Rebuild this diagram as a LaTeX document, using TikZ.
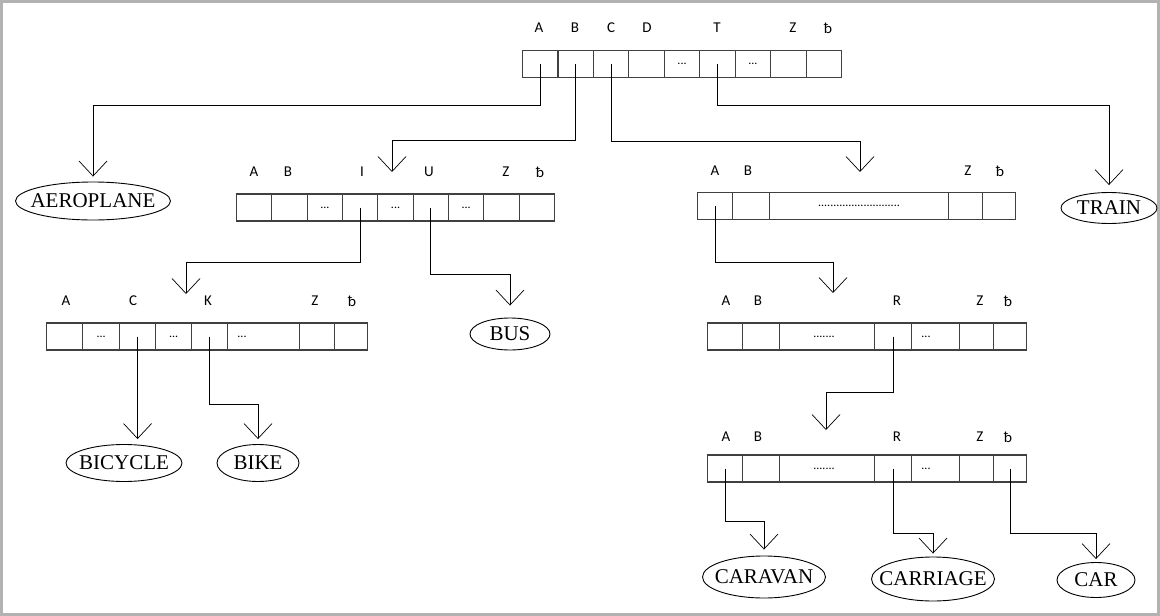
\documentclass[tikz,border=0pt]{standalone}
\usepackage{fontspec}
\setmainfont{Liberation Serif}
\newfontfamily\lblfont{Carlito}
\usetikzlibrary{arrows.meta,shapes.geometric,calc}
\begin{document}
\begin{tikzpicture}[x=1pt,y=-1pt,
  cell/.style={draw=black!75,line width=1.1pt,minimum height=27pt,inner sep=0pt,anchor=west},
  lbl/.style={font=\lblfont\fontsize{15}{15}\selectfont,inner sep=0pt},
  dts/.style={font=\lblfont\fontsize{12}{12}\selectfont,inner sep=0pt},
  word/.style={draw,ellipse,line width=0.9pt,inner sep=0pt},
  wtxt/.style={inner sep=0pt,font=\fontsize{21}{21}\selectfont},
  arr/.style={line width=0.8pt,-{Straight Barb[length=15pt,width=28pt,line width=0.7pt]}},
  frame/.style={draw=black!30,line width=3pt}
]
\useasboundingbox (0,0) rectangle (1160,616);
\path[frame] (1.5,1.5) rectangle (1158.5,614.5);

% ---------- top array ----------
\foreach \i in {1,...,9}
  \node[cell,minimum width=35.44pt] (t\i) at ({522+(\i-1)*35.44},64) {};
\node[dts] (t5d) at (t5) {...};
\node[dts] (t7d) at (t7) {...};
\foreach \t/\x [count=\k] in {A/539,B/575,C/611,D/647,T/717,Z/793,ƀ/828}
  \node[lbl] (tl\k) at (\x,28) {\t};

% ---------- middle left array ----------
\foreach \i in {1,...,9}
  \node[cell,minimum width=35.33pt] (m\i) at ({236+(\i-1)*35.33},207.5) {};
\node[dts] (m3d) at (m3) {...};
\node[dts] (m5d) at (m5) {...};
\node[dts] (m7d) at (m7) {...};
\foreach \t/\x [count=\k] in {A/254,B/288,I/362,U/429,Z/506,ƀ/540}
  \node[lbl] (ml\k) at (\x,172) {\t};

% ---------- middle right array ----------
\foreach \a/\b [count=\i] in {697/732,732/769,769/948,948/982,982/1015}
  \node[cell,minimum width={\b-\a}] (r\i) at (\a,206) {};
\node[dts] (r3d) at (r3) {...........................};
\foreach \t/\x [count=\k] in {A/715,B/748,Z/968,ƀ/1000}
  \node[lbl] (rl\k) at (\x,171) {\t};

% ---------- lower left array ----------
\foreach \a/\b [count=\i] in {46/82,82/119,119/155,155/191,191/227,227/299,299/334,334/367}
  \node[cell,minimum width={\b-\a}] (l\i) at (\a,336.5) {};
\node[dts] (l2d) at (l2) {...};
\node[dts] (l4d) at (l4) {...};
\node[dts] (l6d) at (242,336.5) {...};
\foreach \t/\x [count=\k] in {A/66,C/133,K/208,Z/315,ƀ/352}
  \node[lbl] (ll\k) at (\x,301) {\t};

% ---------- lower right arrays ----------
\foreach \a/\b [count=\i] in {707/742,742/779,779/874,874/911,911/959,959/993,993/1026}
  \node[cell,minimum width={\b-\a}] (p\i) at (\a,336.5) {};
\node[dts] (p3d) at (824,336.5) {.......};
\node[dts] (p5d) at (926,336.5) {...};
\foreach \t/\x [count=\k] in {A/726,B/758,R/897,Z/980,ƀ/1008}
  \node[lbl] (pl\k) at (\x,301) {\t};

\foreach \a/\b [count=\i] in {707/742,742/779,779/874,874/911,911/959,959/993,993/1026}
  \node[cell,minimum width={\b-\a}] (q\i) at (\a,468.5) {};
\node[dts] (q3d) at (824,468.5) {.......};
\node[dts] (q5d) at (926,468.5) {...};
\foreach \t/\x [count=\k] in {A/726,B/758,R/897,Z/980,ƀ/1008}
  \node[lbl] (ql\k) at (\x,437) {\t};

% ---------- word ellipses ----------
\node[word,minimum width=155pt,minimum height=38pt] (aero) at (93,201) {};
\node[wtxt] (aeroT) at (aero) {AEROPLANE};
\node[word,minimum width=96pt,minimum height=31pt] (train) at (1109,208) {};
\node[wtxt] (trainT) at (train) {TRAIN};
\node[word,minimum width=80pt,minimum height=32pt] (bus) at (510,334) {};
\node[wtxt] (busT) at (bus) {BUS};
\node[word,minimum width=116pt,minimum height=37pt] (bicycle) at (124,463) {};
\node[wtxt] (bicycleT) at (bicycle) {BICYCLE};
\node[word,minimum width=82pt,minimum height=37pt] (bike) at (258,463) {};
\node[wtxt] (bikeT) at (bike) {BIKE};
\node[word,minimum width=123pt,minimum height=42pt] (caravan) at (764,577) {};
\node[wtxt] (caravanT) at (caravan) {CARAVAN};
\node[word,minimum width=123pt,minimum height=44pt] (carriage) at (933,579) {};
\node[wtxt] (carriageT) at (carriage) {CARRIAGE};
\node[word,minimum width=78pt,minimum height=35pt] (car) at (1096,580) {};
\node[wtxt] (carT) at (car) {CAR};

% ---------- arrow targets above arrays ----------
\coordinate (tipB) at (392,172);
\coordinate (tipC) at (860,172);
\coordinate (tipI) at (186,294);
\coordinate (tipR) at (833,293);
\coordinate (tipP) at (826,430);

% ---------- connectors ----------
\draw[arr,shorten >=5pt] (t1.center) -- (t1.center |- 0,105) -| (aero.north);
\draw[arr] (t2.center) -- (t2.center |- 0,140) -| (tipB);
\draw[arr] (t3.center) -- (t3.center |- 0,141) -| (tipC);
\draw[arr,shorten >=7pt] (t6.center) -- (t6.center |- 0,105) -| (train.north);

\draw[arr] (m4.center) -- (m4.center |- 0,262) -| (tipI);
\draw[arr,shorten >=12pt] (m6.center) -- (m6.center |- 0,274) -| (bus.north);

\draw[arr] (r1.center) -- (r1.center |- 0,262) -| (tipR);

\draw[arr,shorten >=5pt] (l3.center) -- (l3.center |- bicycle.north);
\draw[arr,shorten >=5pt] (l5.center) -- (l5.center |- 0,404) -| (bike.north);

\draw[arr] (p4.center) -- (p4.center |- 0,392) -| (tipP);

\draw[arr,shorten >=6pt] (q1.center) -- (q1.center |- 0,521) -| (caravan.north);
\draw[arr,shorten >=3pt] (q4.center) -- (q4.center |- 0,533) -| (carriage.north);
\draw[arr,shorten >=3pt] (q7.center) -- (q7.center |- 0,533) -| (car.north);
\end{tikzpicture}
\end{document}
